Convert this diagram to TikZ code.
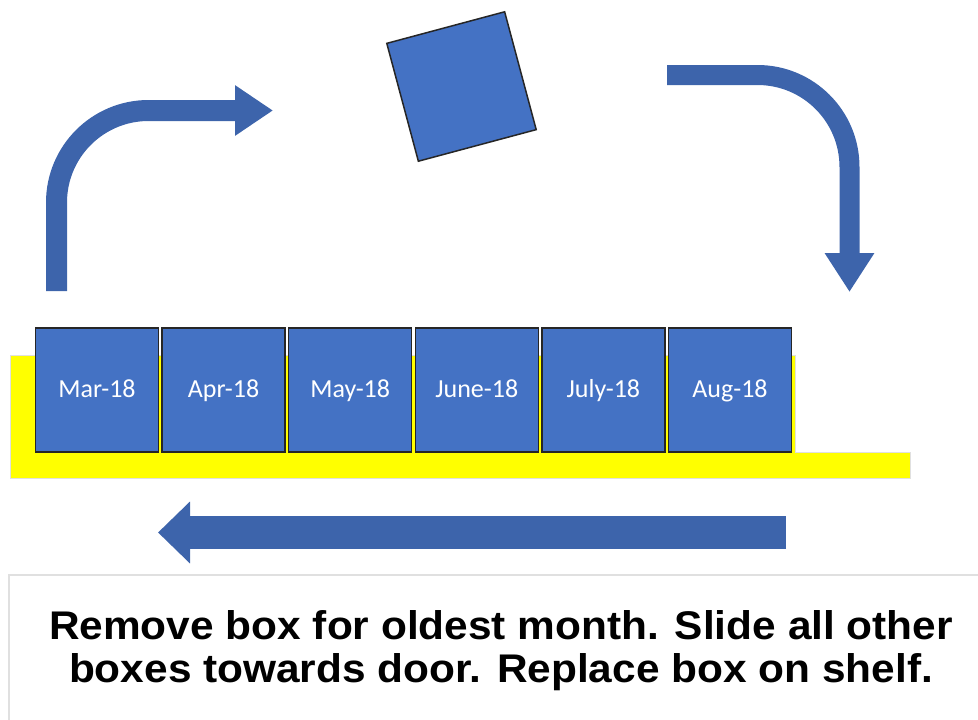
\documentclass[tikz,border=0pt]{standalone}
\usepackage{fontspec}
\usetikzlibrary{arrows.meta}
\newfontfamily\labelfont{Carlito}
\newfontfamily\notefont[FakeStretch=1.06]{Liberation Sans}
\definecolor{boxBlue}{RGB}{68,114,196}
\definecolor{arrowBlue}{RGB}{61,100,171}
\definecolor{shelfYellow}{RGB}{255,255,0}
\definecolor{edgeGray}{gray}{0.15}
\definecolor{frameGray}{gray}{0.88}

\tikzset{
    monthbox/.style={draw=edgeGray, line width=1.5pt, fill=boxBlue, minimum width=123pt, minimum height=124pt,
        inner sep=0pt, text height=15pt, text depth=1pt, text=white, font=\labelfont\fontsize{26}{30}\selectfont},
    bigarrow/.style={draw=arrowBlue, line width=#1}
}

\begin{document}
\begin{tikzpicture}[x=1pt, y=-1pt]
    \useasboundingbox (0,0) rectangle (978,720);
    \clip (0,0) rectangle (978,720);

    \fill[shelfYellow, draw=black!12] (10,355) -- (795,355) -- (795,452) -- (910,452) -- (910,478) -- (10,478) -- cycle;

    \foreach \name/\txt [count=\i from 0] in {mar/Mar-18, apr/Apr-18, may/May-18, jun/June-18, jul/July-18, aug/Aug-18}
        \node[monthbox] (\name) at (97+126.6*\i, 390) {\txt};

    \node[monthbox, minimum width=122pt, minimum height=122pt, rotate=15] (lifted) at (461.5,86.5) {};

    \coordinate (up-start) at (56.5,291);
    \coordinate (up-end) at (273,110.5);
    \coordinate (down-start) at (667,75);
    \coordinate (down-end) at (849.5,292);
    \coordinate (slide-start) at (786,532.5);
    \coordinate (slide-end) at (158,532.5);

    \draw[bigarrow=21pt, rounded corners=92pt, -{Triangle[width=48pt, length=38pt]}] (up-start) |- (up-end);
    \draw[bigarrow=20pt, rounded corners=92pt, -{Triangle[width=47pt, length=39pt]}] (down-start) -| (down-end);
    \draw[bigarrow=33pt, -{Triangle[width=60pt, length=32pt]}] (slide-start) -- (slide-end);

    \draw[frameGray, line width=2pt] (9,575) rectangle (990,730);
    \node[font=\notefont\bfseries\fontsize{40}{43}\selectfont, align=center, anchor=north, inner sep=0pt] (note) at (501,610)
        {Remove box for oldest month. Slide all other\\boxes towards door. Replace box on shelf.};
\end{tikzpicture}
\end{document}
